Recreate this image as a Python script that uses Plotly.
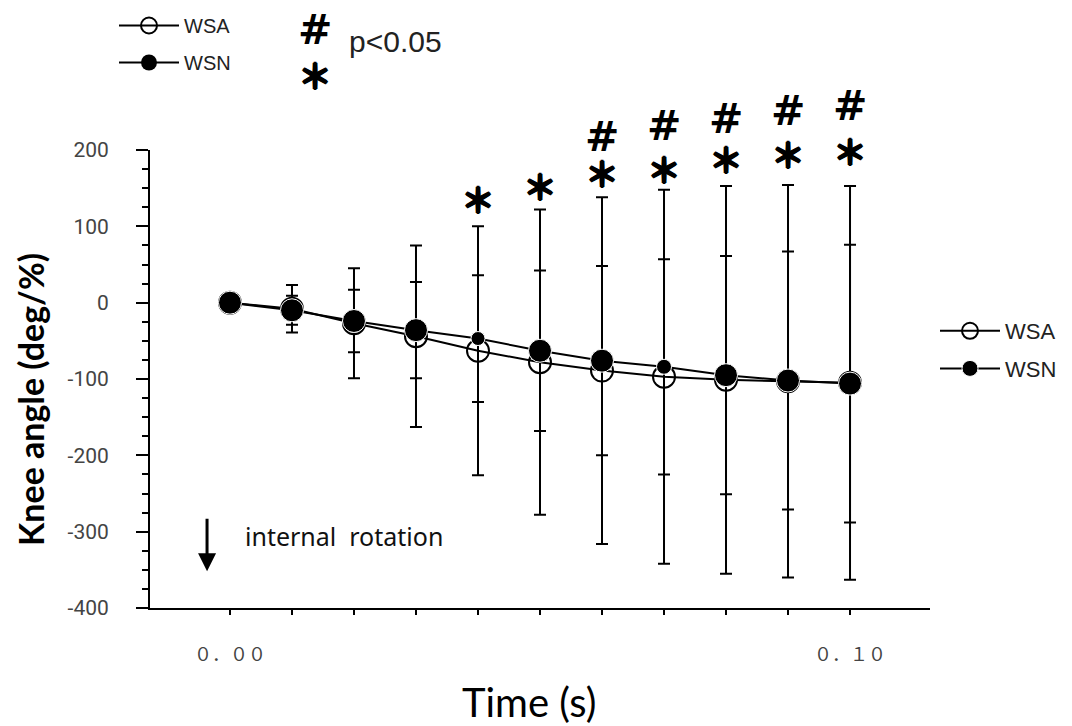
import plotly.graph_objects as go

# ---------------- data ----------------
time_s = [0.00, 0.01, 0.02, 0.03, 0.04, 0.05, 0.06, 0.07, 0.08, 0.09, 0.10]
wsa_mean = [0, -8, -27, -44, -63, -78, -89, -97, -101, -103, -105]
wsa_sd = [0, 31, 72, 119, 163, 200, 227, 245, 254, 257, 258]
wsn_mean = [0, -10, -24, -36, -47, -63, -76, -84, -95, -102, -106]
wsn_sd = [0, 19, 41, 63, 83, 105, 124, 141, 156, 169, 182]

star_idx = [4, 5, 6, 7, 8, 9, 10]
star_y = [137, 154, 170, 176, 189, 195, 200]
hash_idx = [6, 7, 8, 9, 10]
hash_y = [217, 232, 240, 251, 257]

y_tick_vals = [-400, -300, -200, -100, 0, 100, 200]
y_tick_text = ["-400", "-300", "-200", "-100", "0", "100", "200"]
x_tick_text = ["０．００", "", "", "", "", "", "", "", "", "", "０．１０"]

Y_MIN, Y_MAX = -400, 200

# ---------------- figure ----------------
W, H = 1072, 726
L, R, T, B = 150, 142, 150, 118
pw, ph = W - L - R, H - T - B


def px_x(px):
    return (px - L) / pw


def px_y(py):
    return (H - B - py) / ph


def data_to_paper_y(v):
    return (v - Y_MIN) / (Y_MAX - Y_MIN)


fig = go.Figure()

wsn_sizes = [23, 23, 23, 23, 14, 23, 23, 15, 23, 23, 23]

fig.add_trace(go.Scatter(
    x=time_s, y=wsa_mean, name="WSA", mode="lines+markers",
    line=dict(color="black", width=2),
    marker=dict(symbol="circle-open", size=22, color="black", opacity=1,
                line=dict(width=2, color="black")),
    error_y=dict(type="data", array=wsa_sd, visible=True, color="black", thickness=2, width=6),
    legendgroup="a", legend="legend",
))
fig.add_trace(go.Scatter(
    x=time_s, y=wsn_mean, name="WSN", mode="lines+markers",
    line=dict(color="black", width=2),
    marker=dict(symbol="circle", size=wsn_sizes, color="black", opacity=1),
    error_y=dict(type="data", array=wsn_sd, visible=True, color="black", thickness=2, width=6),
    legendgroup="b", legend="legend",
))
# entries of the second (top-left) legend
fig.add_trace(go.Scatter(
    x=[None], y=[None], name="WSA", mode="lines+markers",
    line=dict(color="black", width=2),
    marker=dict(symbol="circle-open", size=16, color="black", line=dict(width=2, color="black")),
    legendgroup="c", legend="legend2",
))
fig.add_trace(go.Scatter(
    x=[None], y=[None], name="WSN", mode="lines+markers",
    line=dict(color="black", width=2),
    marker=dict(symbol="circle", size=16, color="black"),
    legendgroup="d", legend="legend2",
))

THICK = "1px 0 0 black, -1px 0 0 black, 0 1px 0 black, 0 -1px 0 black"
STAR_FONT = dict(family="Noto Sans CJK JP", size=34, color="black", weight="bold", shadow=THICK)
HASH_FONT = dict(family="DejaVu Sans", size=41, color="black", weight="bold")

annotations = []
for i, yy in zip(star_idx, star_y):
    annotations.append(dict(x=time_s[i], y=data_to_paper_y(yy), xref="x", yref="paper", text="＊",
                            showarrow=False, xanchor="center", yanchor="middle", font=STAR_FONT))
for i, yy in zip(hash_idx, hash_y):
    annotations.append(dict(x=time_s[i], y=data_to_paper_y(yy), xref="x", yref="paper", text="#",
                            showarrow=False, xanchor="center", yanchor="middle", font=HASH_FONT))

# key for significance marks
annotations.append(dict(x=px_x(315), y=px_y(30), xref="paper", yref="paper", text="#", showarrow=False,
                        xanchor="center", yanchor="middle", font=HASH_FONT))
annotations.append(dict(x=px_x(315), y=px_y(74), xref="paper", yref="paper", text="＊", showarrow=False,
                        xanchor="center", yanchor="middle", font=STAR_FONT))
annotations.append(dict(x=px_x(347), y=px_y(42), xref="paper", yref="paper", text="p<0.05", showarrow=False,
                        xanchor="left", yanchor="middle",
                        font=dict(family="Liberation Sans", size=30, color="#222")))

# internal rotation note
annotations.append(dict(x=-0.0037, y=-352, xref="x", yref="y", text="", showarrow=True,
                        ax=0, ay=-54, arrowhead=2, arrowsize=1.2, arrowwidth=3, arrowcolor="black"))
annotations.append(dict(x=0.0021, y=-306, xref="x", yref="y", text="internal  rotation", showarrow=False,
                        xanchor="left", yanchor="middle",
                        font=dict(family="Noto Sans", size=25, color="#111")))

# axis titles
annotations.append(dict(x=px_x(30), y=px_y(400), xref="paper", yref="paper", text="<b>Knee angle (deg/%)</b>",
                        textangle=-90, showarrow=False, xanchor="center", yanchor="middle",
                        font=dict(family="Lato", size=34, color="black")))
annotations.append(dict(x=px_x(529), y=px_y(702), xref="paper", yref="paper", text="Time (s)",
                        showarrow=False, xanchor="center", yanchor="middle",
                        font=dict(family="Lato", size=40, color="black")))

fig.update_layout(
    width=W, height=H,
    margin=dict(l=L, r=R, t=T, b=B, autoexpand=False),
    plot_bgcolor="white", paper_bgcolor="white",
    showlegend=True,
    legend=dict(x=px_x(935), y=px_y(310), xanchor="left", yanchor="top",
                font=dict(family="Liberation Sans", size=22, color="#222"),
                itemwidth=60, tracegroupgap=6, bgcolor="rgba(0,0,0,0)"),
    legend2=dict(x=px_x(114), y=px_y(6), xanchor="left", yanchor="top",
                 font=dict(family="Liberation Sans", size=20, color="#222"),
                 itemwidth=60, tracegroupgap=8, bgcolor="rgba(0,0,0,0)"),
    annotations=annotations,
)

fig.update_xaxes(
    range=[-0.0129, 0.1129],
    tickvals=time_s, ticktext=x_tick_text,
    ticks="outside", ticklen=5, tickwidth=2, tickcolor="black",
    showline=True, linewidth=2, linecolor="black",
    showgrid=False, zeroline=False,
    tickfont=dict(family="Noto Sans CJK JP", size=18, color="#444"),
    ticklabelstandoff=24,
)
fig.update_yaxes(
    range=[Y_MIN, Y_MAX],
    tickvals=y_tick_vals, ticktext=y_tick_text,
    ticks="outside", ticklen=12, tickwidth=2, tickcolor="black",
    minor=dict(dtick=25, ticks="outside", ticklen=6, tickwidth=2, tickcolor="black"),
    showline=True, linewidth=2, linecolor="black",
    showgrid=False, zeroline=False,
    tickfont=dict(family="Roboto", size=21, color="#444"),
    ticklabelstandoff=23,
)

fig.write_html("out.html")
